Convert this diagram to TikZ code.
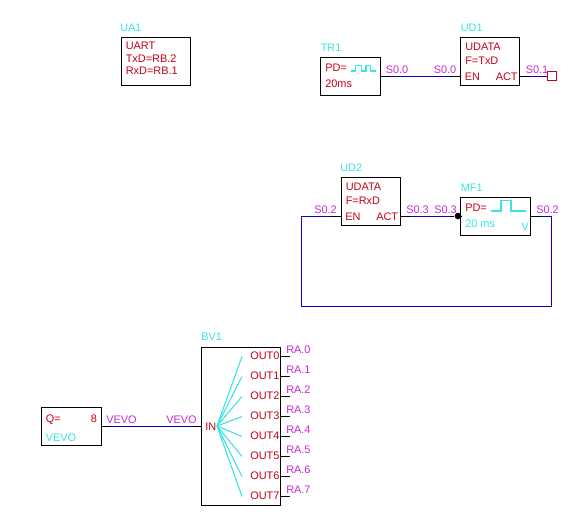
\documentclass[tikz,border=0pt]{standalone}
\usepackage{fontspec}
\setmainfont{Liberation Sans}
\usetikzlibrary{arrows.meta,positioning,calc}
\definecolor{plcWire}{HTML}{0808B8}
\definecolor{plcPin}{HTML}{C80018}
\definecolor{plcName}{HTML}{38E4E4}
\definecolor{plcNet}{HTML}{C828D8}
\tikzset{
  blockbox/.style={
    rectangle, draw=black, line width=0.75pt, fill=white, inner sep=0pt
  },
  plctext/.style={anchor=base west, inner sep=0pt, font=\fontsize{8.2}{9}\selectfont},
  pinlabel/.style={plctext, text=plcPin},
  namelabel/.style={plctext, text=plcName},
  netlabel/.style={plctext, text=plcNet},
  stubline/.style={draw=black, line width=0.75pt},
  wireline/.style={draw=plcWire, line width=0.75pt},
  fanline/.style={draw=plcName, line width=0.8pt},
  pulseline/.style={draw=plcName, line width=1pt}
}
\begin{document}
\begin{tikzpicture}[x=0.75pt,y=-0.75pt]
\useasboundingbox (0,0) rectangle (588,519);

% UART block
\node[blockbox, minimum width=69*0.75pt, minimum height=48*0.75pt] (ua) at (155.5,61) {};
\node[namelabel] (uaname) at (120,31) {UA1};
\node[pinlabel] (uatitle) at (125.5,49) {UART};
\node[pinlabel] (uatx) at (125.5,62) {TxD=RB.2};
\node[pinlabel] (uarx) at (125.5,74) {RxD=RB.1};

% Transmit row
\node[blockbox, minimum width=60*0.75pt, minimum height=38*0.75pt] (tr) at (350.5,76) {};
\node[blockbox, minimum width=59*0.75pt, minimum height=48*0.75pt] (udt) at (490,61) {};
\node[blockbox, minimum width=9*0.75pt, minimum height=9*0.75pt, draw=plcPin, fill=none] (term) at (551.5,76) {};
\node[namelabel] (trname) at (320.5,51) {TR1};
\node[pinlabel] (trpd) at (325,71) {PD=};
\node[pinlabel] (trtime) at (325,87) {20ms};
\node[namelabel] (udtname) at (460.5,31) {UD1};
\node[pinlabel] (udttitle) at (465,50) {UDATA};
\node[pinlabel] (udtf) at (465,64) {F=TxD};
\node[pinlabel] (udten) at (464.5,80) {EN};
\node[pinlabel] (udtact) at (495.5,80) {ACT};
\node[netlabel] (neta) at (385.5,73) {S0.0};
\node[netlabel] (netb) at (433.5,73) {S0.0};
\node[netlabel] (netc) at (525.5,73) {S0.1};
\coordinate (trq) at (390,76);
\coordinate (udtin) at (451,76);
\coordinate (udtout) at (530,76);
\draw[stubline] (tr.east) -- (trq);
\draw[wireline] (trq) -- (udtin);
\draw[stubline] (udtin) -- (udtin-|udt.west);
\draw[stubline] (udtout-|udt.east) -- (udtout);
\draw[wireline] (udtout) -- (term.west);
\draw[pulseline] (350.5,71) -- (355.5,71) -- (355.5,65.5) -- (361.5,65.5) -- (361.5,71) -- (366,71) -- (366,65.5) -- (370.5,65.5) -- (370.5,71) -- (375.5,71);

% Receive row
\node[blockbox, minimum width=59*0.75pt, minimum height=48*0.75pt] (udr) at (370.5,201) {};
\node[blockbox, minimum width=70*0.75pt, minimum height=38*0.75pt] (mf) at (495.5,216) {};
\node[circle, fill=black, inner sep=0pt, minimum size=5pt] (inv) at (458,216) {};
\node[namelabel] (udrname) at (340,171) {UD2};
\node[pinlabel] (udrtitle) at (345.5,190) {UDATA};
\node[pinlabel] (udrf) at (345.5,204) {F=RxD};
\node[pinlabel] (udren) at (345,220) {EN};
\node[pinlabel] (udract) at (376,220) {ACT};
\node[namelabel] (mfname) at (460.5,191) {MF1};
\node[pinlabel] (mfpd) at (465,211) {PD=};
\node[namelabel] (mftime) at (465,227) {20 ms};
\node[namelabel] (mfv) at (521,230) {V};
\node[netlabel] (netd) at (314,213) {S0.2};
\node[netlabel] (nete) at (406,213) {S0.3};
\node[netlabel] (netf) at (434,213) {S0.3};
\node[netlabel] (netg) at (536,213) {S0.2};
\coordinate (udrin) at (331,216);
\coordinate (udrout) at (410,216);
\coordinate (mfin) at (450,216);
\coordinate (mfout) at (541,216);
\coordinate (loopa) at (301,216);
\coordinate (loopb) at (301,306);
\coordinate (loopc) at (551,306);
\coordinate (loopd) at (551,216);
\draw[stubline] (udrin) -- (udrin-|udr.west);
\draw[stubline] (udrout-|udr.east) -- (udrout);
\draw[wireline] (udrout) -- (mfin);
\draw[stubline] (mfin) -- (inv);
\draw[stubline] (inv) -- (inv-|mf.west);
\draw[stubline] (mfout-|mf.east) -- (mfout);
\draw[wireline] (mfout) -- (loopd) -- (loopc) -- (loopb) -- (loopa) -- (udrin);
\draw[pulseline] (490.5,211) -- (501,211) -- (501,200.5) -- (511,200.5) -- (511,211) -- (525.5,211);

% Byte output block
\node[blockbox, minimum width=60*0.75pt, minimum height=38*0.75pt] (vevo) at (71,426) {};
\node[blockbox, minimum width=79*0.75pt, minimum height=158*0.75pt] (bv) at (240.5,426) {};
\node[pinlabel] (vevoq) at (45.5,422) {Q=};
\node[pinlabel] (vevon) at (90.5,422) {8};
\node[namelabel] (vevoname) at (45.5,441) {VEVO};
\node[netlabel] (neth) at (106,423) {VEVO};
\node[netlabel] (neti) at (166,423) {VEVO};
\node[namelabel] (bvname) at (201,340) {BV1};
\node[pinlabel] (bvin) at (205,430) {IN};
\coordinate (vevoout) at (110,426);
\coordinate (bvinpin) at (191,426);
\coordinate (fanroot) at (217,426);
\draw[stubline] (vevo.east) -- (vevoout);
\draw[wireline] (vevoout) -- (bvinpin);
\draw[stubline] (bvinpin) -- (bv.west);
\foreach \i in {0,...,7} {
  \node[pinlabel] (out\i) at (250,359.5+20*\i) {OUT\i};
  \node[netlabel] (ra\i) at (286,353+20*\i) {RA.\i};
  \coordinate (pin\i) at (290,356+20*\i);
  \coordinate (fan\i) at (242,356.5+20*\i);
  \draw[stubline] (pin\i-|bv.east) -- (pin\i);
  \draw[fanline] (fanroot) -- (fan\i);
}

\end{tikzpicture}
\end{document}
